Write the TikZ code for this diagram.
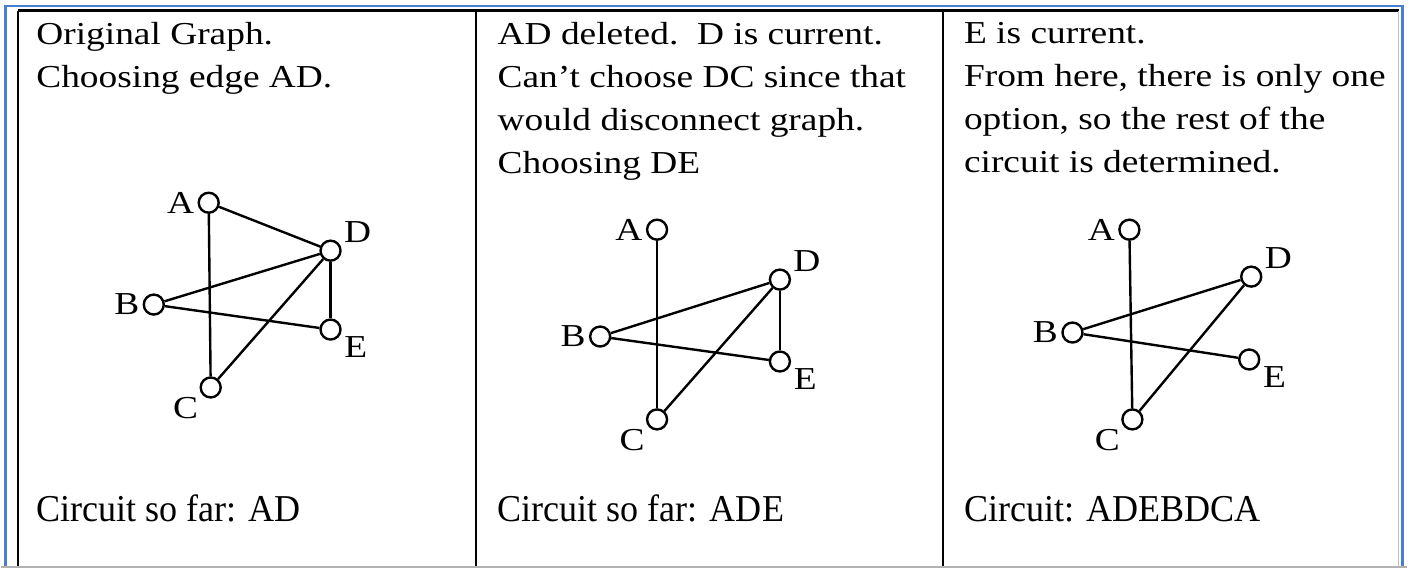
\documentclass[tikz,border=0pt]{standalone}
\usepackage{fontspec}
\setmainfont{Liberation Serif}
\newfontfamily\stepfont[FakeStretch=1.17]{Liberation Serif}
\newfontfamily\sumfont[FakeStretch=0.95]{Liberation Serif}
\definecolor{frameblue}{RGB}{75,125,210}
\begin{document}
\begin{tikzpicture}[x=0.5pt,y=-0.5pt,
  vtx/.style={circle,draw,line width=1.2pt,minimum size=10pt,inner sep=0pt},
  lbl/.style={font=\stepfont\fontsize{16}{18}\selectfont,inner sep=1.5pt},
  note/.style={anchor=north west,align=left,inner sep=0pt,font=\stepfont\fontsize{16}{21.5}\selectfont},
  total/.style={anchor=base west,inner sep=0pt,font=\sumfont\fontsize{19}{22}\selectfont},
  edge/.style={line width=1.2pt}]
\fill[white] (0,0) rectangle (1408,570);

% frame and table
\draw[frameblue,line width=1.5pt] (5,567) -- (5,6) -- (1403,6) -- (1403,567);
\draw[gray!60,line width=1pt] (0,568) -- (1408,568);
\draw[line width=1.5pt] (17,11) -- (1400,11);
\draw[line width=1pt] (17,11) -- (17,567);
\draw[line width=1pt] (476,11) -- (476,567);
\draw[line width=1pt] (943,11) -- (943,567);
\draw[gray!50,line width=0.5pt] (1399,11) -- (1399,567);

% panel 1
\node[note] (n1) at (35,22) {Original Graph.\\Choosing edge AD.};
\node[vtx,label={[lbl]180:A}] (A1) at (208,203) {};
\node[vtx,label={[lbl]25:D}] (D1) at (330,251) {};
\node[vtx,label={[lbl]180:B}] (B1) at (153,305) {};
\node[vtx,label={[lbl]-20:E}] (E1) at (330,330) {};
\node[vtx,label={[lbl]-145:C}] (C1) at (210,388) {};
\draw[edge] (A1) -- (C1);
\draw[edge] (A1) -- (D1);
\draw[edge] (B1) -- (D1);
\draw[edge] (B1) -- (E1);
\draw[edge] (D1) -- (E1);
\draw[edge] (D1) -- (C1);
\node[total] (s1) at (35,522) {Circuit so far: AD};

% panel 2
\node[note] (n2) at (497,22) {AD deleted.\ \ D is current.\\Can’t choose DC since that\\would disconnect graph.\\Choosing DE};
\node[vtx,label={[lbl]180:A}] (A2) at (657,230) {};
\node[vtx,label={[lbl]25:D}] (D2) at (780,280) {};
\node[vtx,label={[lbl]180:B}] (B2) at (600,337) {};
\node[vtx,label={[lbl]-20:E}] (E2) at (780,362) {};
\node[vtx,label={[lbl]-145:C}] (C2) at (657,420) {};
\draw[edge] (A2) -- (C2);
\draw[edge] (B2) -- (D2);
\draw[edge] (B2) -- (E2);
\draw[edge] (D2) -- (E2);
\draw[edge] (D2) -- (C2);
\node[total] (s2) at (497,522) {Circuit so far: ADE};

% panel 3
\node[note] (n3) at (964,22) {E is current.\\From here, there is only one\\option, so the rest of the\\circuit is determined.};
\node[vtx,label={[lbl]180:A}] (A3) at (1130,230) {};
\node[vtx,label={[lbl]25:D}] (D3) at (1252,277) {};
\node[vtx,label={[lbl]180:B}] (B3) at (1073,333) {};
\node[vtx,label={[lbl]-20:E}] (E3) at (1250,360) {};
\node[vtx,label={[lbl]-145:C}] (C3) at (1133,420) {};
\draw[edge] (A3) -- (C3);
\draw[edge] (B3) -- (D3);
\draw[edge] (B3) -- (E3);
\draw[edge] (D3) -- (C3);
\node[total] (s3) at (964,522) {Circuit: ADEBDCA};
\end{tikzpicture}
\end{document}
